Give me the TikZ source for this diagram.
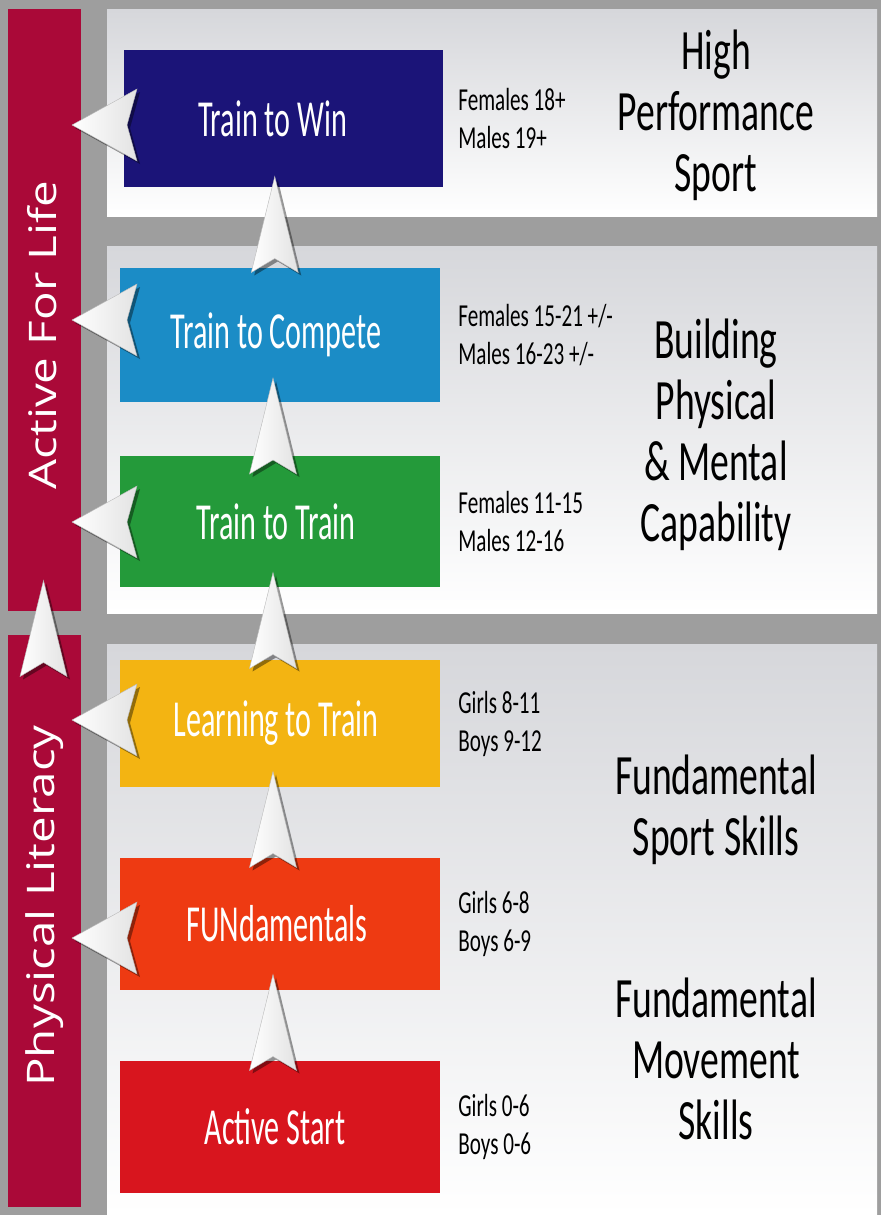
\documentclass[tikz,border=0pt]{standalone}
\usepackage{fontspec}
\setmainfont{Carlito}[FakeStretch=0.66]
\newfontfamily\labelfont{Carlito}[FakeStretch=0.58]
\newfontfamily\barfont{Open Sans}[FakeStretch=1.25]
\usepackage{tikz}
\definecolor{backgray}{RGB}{158,158,158}
\definecolor{panelgray}{RGB}{214,215,219}
\definecolor{crimson}{RGB}{170,9,56}
\definecolor{winblue}{RGB}{27,20,120}
\definecolor{competeblue}{RGB}{27,140,198}
\definecolor{traingreen}{RGB}{36,154,58}
\definecolor{learnyellow}{RGB}{243,180,18}
\definecolor{funorange}{RGB}{238,58,18}
\definecolor{startred}{RGB}{216,21,30}
\usetikzlibrary{calc, shadows, positioning}
\tikzset{%
  stage/.style={rectangle, inner sep=0pt, minimum width=320pt, minimum height=132pt,
    text=white, font=\labelfont\fontsize{52}{56}\selectfont},% coloured stage box
  ages/.style={anchor=west, align=left, inner sep=0pt, font=\fontsize{32}{38}\selectfont},% age ranges
  phase/.style={align=center, inner sep=0pt, font=\fontsize{57}{61}\selectfont},% phase titles
  bartext/.style={rotate=90, text=white, inner sep=0pt, font=\barfont\fontsize{38}{40}\selectfont},% crimson bar text
  chevron/.style={draw=gray!55, line width=0.4pt, left color=white, right color=gray!22,
    drop shadow={shadow xshift=3pt, shadow yshift=-3pt, opacity=0.4, fill=black}},% white arrow heads
  upchevron/.pic={\path[chevron] (0,-48) -- (23.5,48) -- (0,34) -- (-23.5,48) -- cycle;},
  leftchevron/.pic={\path[chevron] (-32.5,0) -- (32.5,-36) -- (22.5,0) -- (32.5,36) -- cycle;}
}
% stage label, pulled left a little
\newcommand*{\stagetext}[2]{\hspace*{-#1pt}#2}

\begin{document}
\begin{tikzpicture}[x=1pt, y=-1pt]
\useasboundingbox (0,0) rectangle (881,1215);
\fill[backgray] (0,0) rectangle (881,1215);

% panels
\shade[top color=panelgray, bottom color=white] (107,10) rectangle (877,216);
\shade[top color=panelgray, bottom color=white] (107,246) rectangle (877,613);
\shade[top color=panelgray, bottom color=white] (107,644) rectangle (877,1215);

% crimson bars
\fill[crimson] (8,9) rectangle (81,611);
\fill[crimson] (8,635) rectangle (81,1207);
\node[bartext] (afl) at (42,335) {Active For Life};
\node[bartext] (pl) at (45,906) {Physical Literacy};

% stages
\node[stage, fill=winblue, minimum width=319pt, minimum height=137pt] (win) at (283.5,118.5) {\stagetext{22}{Train to Win}};
\node[stage, fill=competeblue, minimum height=134pt] (compete) at (280,335) {\stagetext{8}{Train to Compete}};
\node[stage, fill=traingreen, minimum height=131pt] (train) at (280,521.5) {\stagetext{8}{Train to Train}};
\node[stage, fill=learnyellow, minimum height=127pt] (learn) at (280,723.5) {\stagetext{8}{Learning to Train}};
\node[stage, fill=funorange] (fun) at (280,924) {\stagetext{6}{FUNdamentals}};
\node[stage, fill=startred] (start) at (280,1127) {\stagetext{10}{Active Start}};

% ages
\node[ages, right=15pt of win] (winage) {Females 18+\\Males 19+};
\node[ages, right=18pt of compete] (competeage) {Females 15-21 +/-\\Males 16-23 +/-};
\node[ages, right=18pt of train] (trainage) {Females 11-15\\Males 12-16};
\node[ages, right=18pt of learn] (learnage) {Girls 8-11\\Boys 9-12};
\node[ages, right=18pt of fun] (funage) {Girls 6-8\\Boys 6-9};
\node[ages, right=18pt of start] (startage) {Girls 0-6\\Boys 0-6};

% phases
\node[phase] (hps) at (716,115) {High\\Performance\\Sport};
\node[phase] (bpm) at (716,435) {Building\\Physical\\\& Mental\\Capability};
\node[phase] (fss) at (716,810) {Fundamental\\Sport Skills};
\node[phase] (fms) at (716,1059) {Fundamental\\Movement\\Skills};

% arrow heads
\pic at (43.5,628.5) {upchevron};
\foreach \a/\b in {win/compete, compete/train, train/learn, learn/fun, fun/start}
  \path ($(\a.south)!.5!(\b.north)+(-7,-3)$) pic {upchevron};
\foreach \ypos in {125,320,522,720,938}
  \pic at (104.5,\ypos) {leftchevron};

\end{tikzpicture}
\end{document}
